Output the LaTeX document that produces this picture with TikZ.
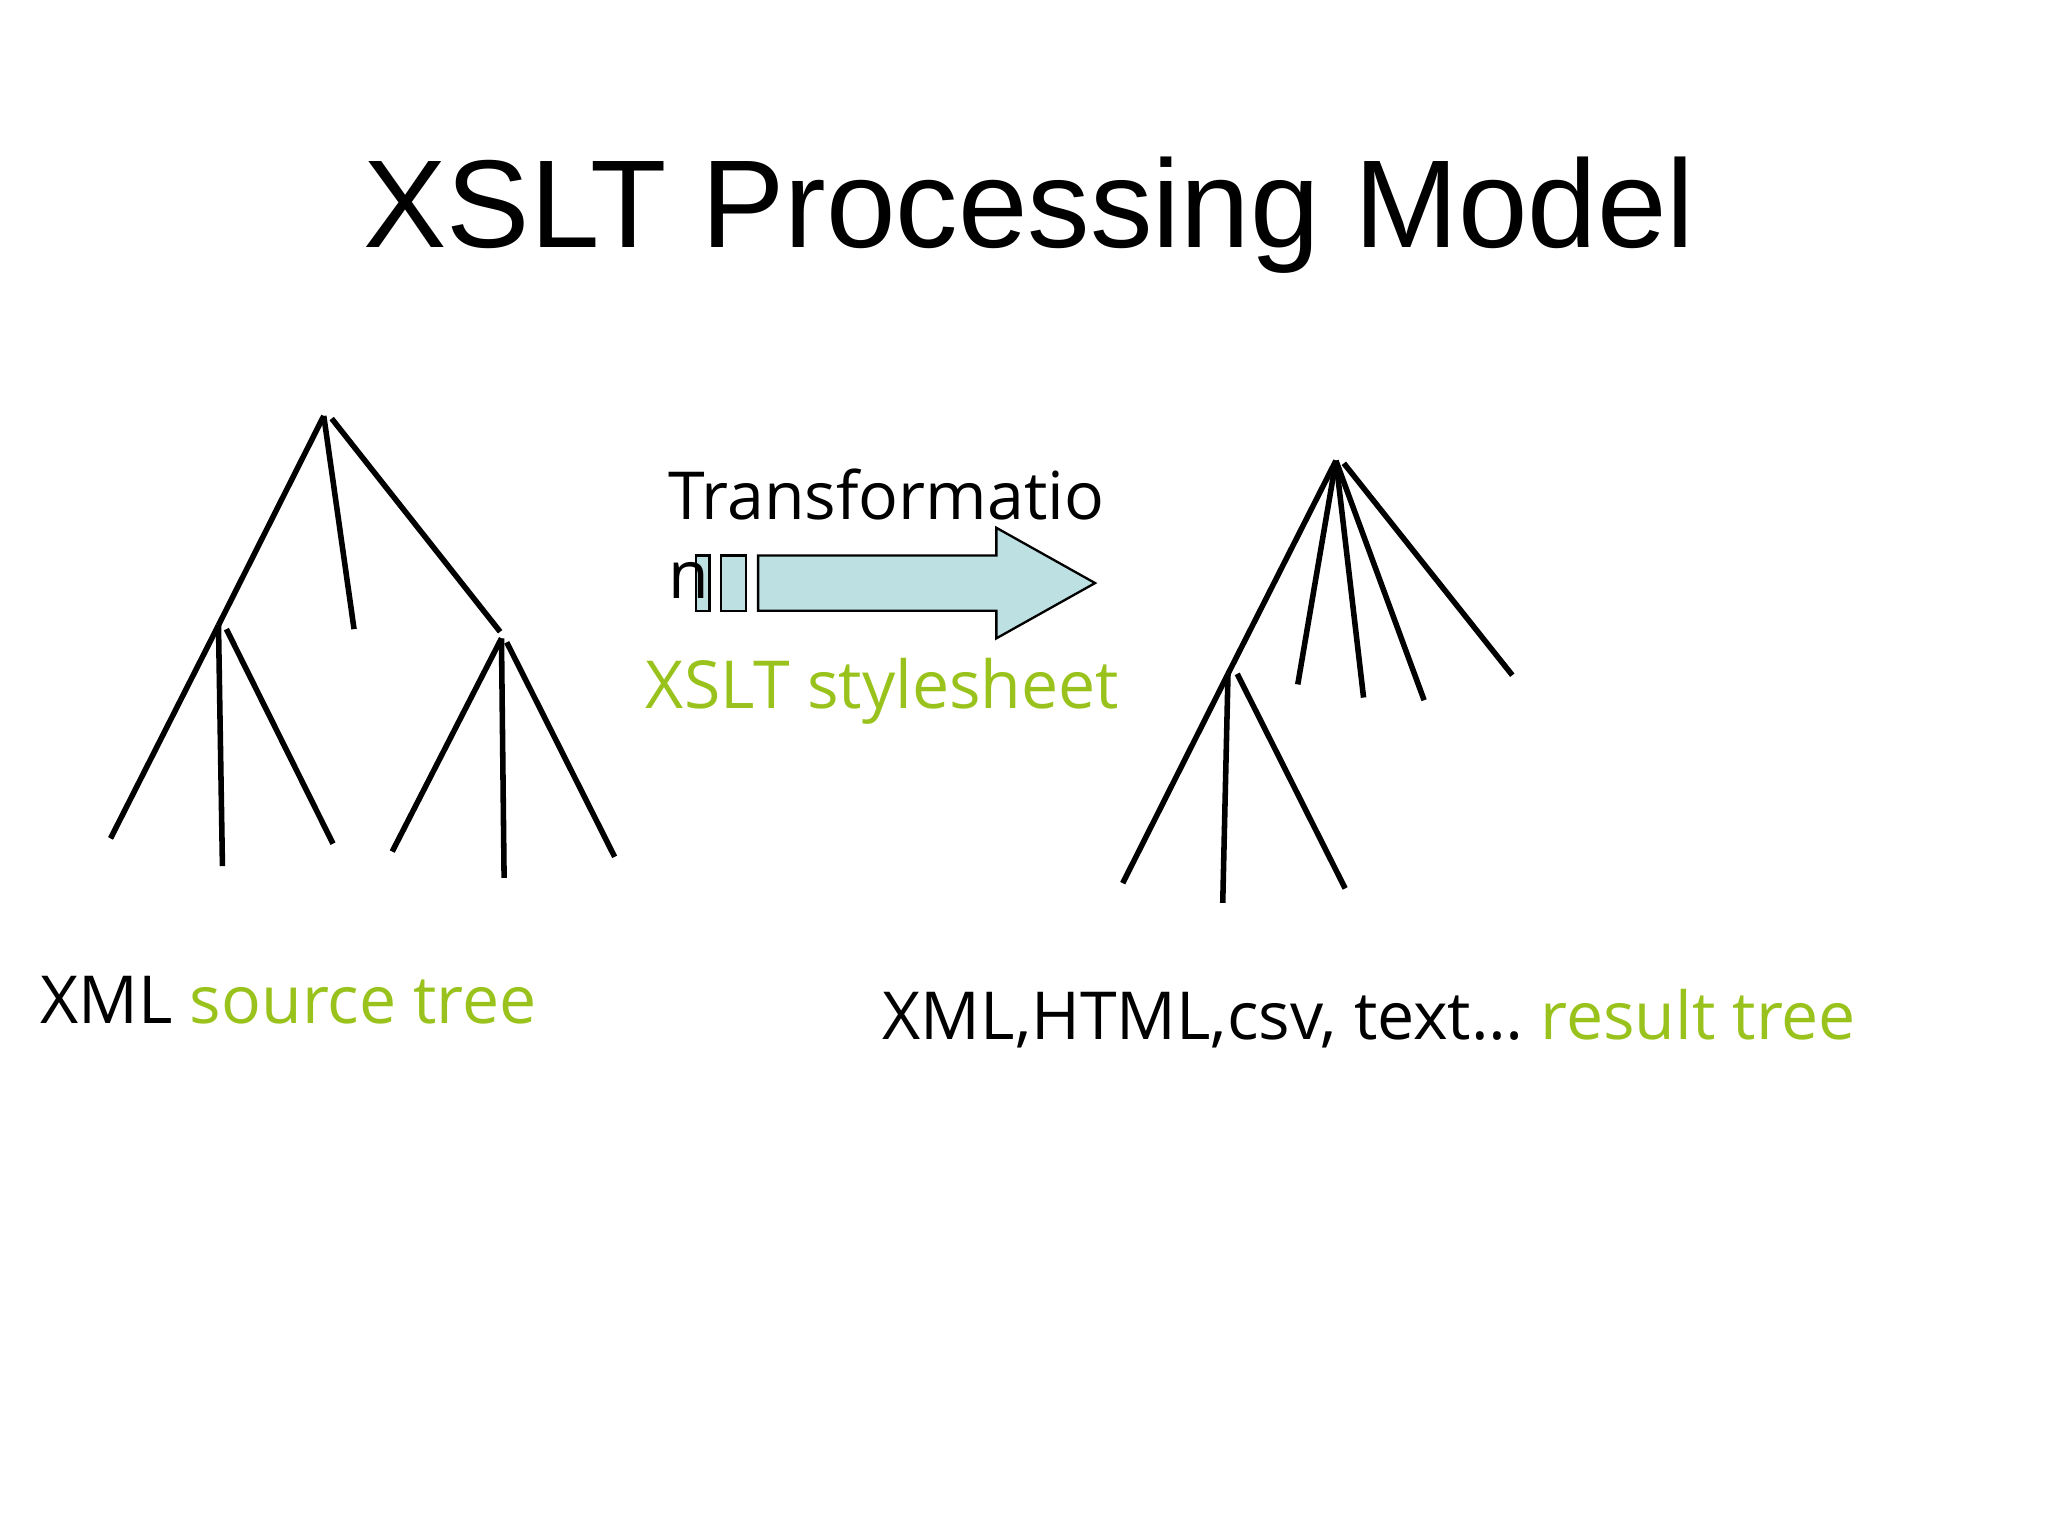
\documentclass[tikz,border=0pt]{standalone}
\usepackage{fontspec}
\setmainfont{Open Sans}
\newfontfamily\titlefont{Liberation Sans}
\definecolor{xgreen}{HTML}{99C31C}
\definecolor{arrowfill}{HTML}{BDE0E3}
\begin{document}
\begin{tikzpicture}[x=0.01cm,y=-0.01cm,
  br/.style={line width=1.2pt},
  lbl/.style={anchor=base west,inner sep=0,font=\fontsize{14.3}{17}\selectfont},
  box/.style={draw=black,fill=arrowfill,line width=0.5pt}]
\useasboundingbox (0,0) rectangle (1556,1167);
\node[anchor=base,inner sep=0,font=\titlefont\fontsize{27}{32}\selectfont] (title) at (782,188) {XSLT Processing Model};
% left tree
\coordinate (r) at (246,316); \coordinate (r2) at (252,318);
\coordinate (a) at (166,475); \coordinate (a2) at (172,478);
\coordinate (b) at (381,485); \coordinate (b2) at (385,488);
\coordinate (l1) at (269,478); \coordinate (l2) at (84,637); \coordinate (l3) at (169,658);
\coordinate (l4) at (253,641); \coordinate (l5) at (298,647); \coordinate (l6) at (383,667);
\coordinate (l7) at (467,651); \coordinate (bt) at (380,480);
\draw[br] (r)--(a); \draw[br] (r)--(l1); \draw[br] (r2)--(bt);
\draw[br] (a)--(l2); \draw[br] (a)--(l3); \draw[br] (a2)--(l4);
\draw[br] (b)--(l5); \draw[br] (b)--(l6); \draw[br] (b2)--(l7);
% right tree
\coordinate (R) at (1015,350); \coordinate (Rb) at (1021,352);
\coordinate (A) at (933,512); \coordinate (A2) at (940,512);
\coordinate (m1) at (986,520); \coordinate (m2) at (1036,530); \coordinate (m3) at (1082,532);
\coordinate (m4) at (1149,513); \coordinate (m5) at (853,671); \coordinate (m6) at (929,686);
\coordinate (m7) at (1022,675);
\draw[br] (R)--(A); \draw[br] (R)--(m1); \draw[br] (R)--(m2); \draw[br] (R)--(m3); \draw[br] (Rb)--(m4);
\draw[br] (A)--(m5); \draw[br] (A)--(m6); \draw[br] (A2)--(m7);
% arrow
\draw[box] (529,422) rectangle (539,464);
\draw[box] (548,422) rectangle (567,464);
\draw[box] (576,422) -- (757,422) -- (757,401) -- (832,443) -- (757,485) -- (757,464) -- (576,464) -- cycle;
% labels
\node[lbl] (t1) at (507,395) {Transformatio};
\node[lbl] (t2) at (507,455) {n};
\node[lbl,text=xgreen] (xs) at (490,538) {XSLT stylesheet};
\node[lbl] (src) at (30,778) {XML \textcolor{xgreen}{source tree}};
\node[lbl] (res) at (670,790) {XML,HTML,csv, text… \textcolor{xgreen}{result tree}};
\end{tikzpicture}
\end{document}
